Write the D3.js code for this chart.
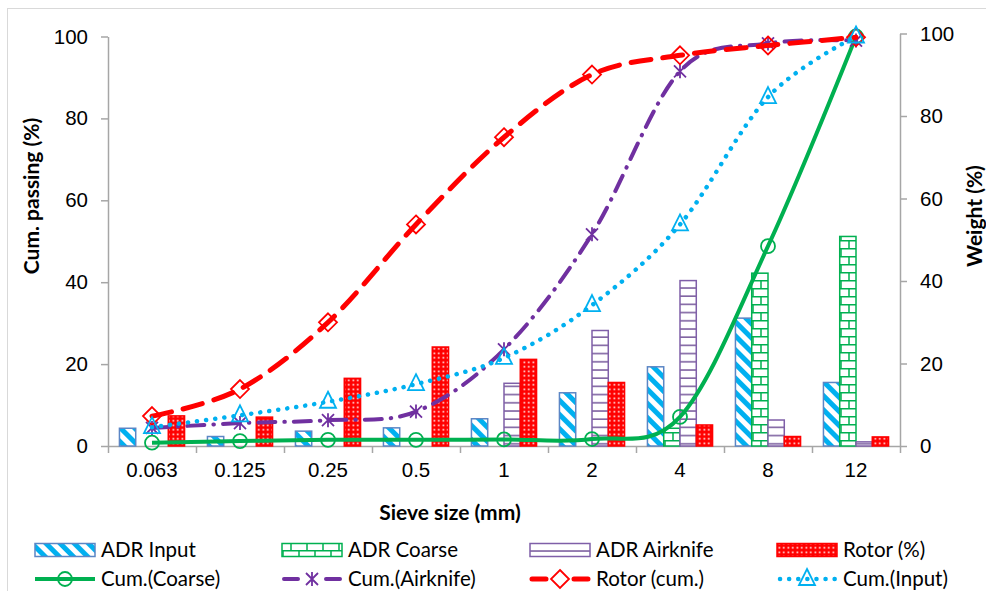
<!DOCTYPE html>
<html>
<head>
<meta charset="utf-8">
<script src="https://cdn.jsdelivr.net/npm/d3@7"></script>
<style>
  body { margin: 0; background: #fff; }
  svg { font-family: Lato, "Liberation Sans", sans-serif; }
  .tick text { font-size: 20.5px; fill: #000; }
  .title { font-size: 21px; font-weight: bold; }
  .leg { font-size: 20.5px; }
</style>
</head>
<body>
<svg width="986" height="591"></svg>
<script>
// sieve sizes and measured values
var sieve = ["0.063", "0.125", "0.25", "0.5", "1", "2", "4", "8", "12"];

// weight (%) bars, right axis
var adrInput    = [4.3, 2.3, 3.6, 4.4, 6.6, 12.9, 19.2, 31.0, 15.4];
var adrCoarse   = [0, 0, 0, 0, 0, 0, 4.3, 41.9, 50.8];
var adrAirknife = [0, 0, 0, 0, 15.2, 28.0, 40.1, 6.3, 1.0];
var rotorPct    = [7.3, 7.0, 16.4, 24.0, 21.0, 15.4, 5.1, 2.3, 2.2];

// cumulative passing (%), left axis
var cumCoarse   = [0.8, 1.2, 1.5, 1.5, 1.6, 1.7, 7.1, 48.8, 100];
var cumAirknife = [4.4, 5.6, 6.3, 8.4, 23.6, 51.7, 91.5, 98.3, 99.0];
var rotorCum    = [7.3, 13.9, 30.2, 54.1, 75.4, 90.7, 95.4, 97.8, 99.8];
var cumInput    = [4.6, 7.5, 10.8, 15.1, 21.5, 34.4, 54.1, 85.2, 100];

var yTicks = [0, 20, 40, 60, 80, 100];

var svg = d3.select("svg");
var left = 108, right = 900;

svg.append("rect").attr("x", 7.5).attr("y", 8.5).attr("width", 1000).attr("height", 600)
	.attr("fill", "none").attr("stroke", "#d9d9d9");

var x = d3.scaleBand().domain(sieve).range([left, right]).paddingInner(0.26).paddingOuter(0.13);
var xEdge = d3.scaleLinear().domain([0, sieve.length]).range([left, right]);
var yL = d3.scaleLinear().domain([0, 100]).range([446, 36.5]);
var yR = d3.scaleLinear().domain([0, 100]).range([446, 33.5]);

// patterns
var defs = svg.append("defs");
var p1 = defs.append("pattern").attr("id", "pInput").attr("patternUnits", "userSpaceOnUse")
	.attr("width", 10).attr("height", 10).attr("patternTransform", "rotate(-45)");
p1.append("rect").attr("width", 10).attr("height", 10).attr("fill", "#fff");
p1.append("rect").attr("width", 5).attr("height", 10).attr("fill", "#00b0f0");

var p2 = defs.append("pattern").attr("id", "pCoarse").attr("patternUnits", "userSpaceOnUse")
	.attr("width", 16).attr("height", 16);
p2.append("rect").attr("width", 16).attr("height", 16).attr("fill", "#fff");
p2.append("path").attr("d", "M0,0.75H16M0,8.75H16M1,0V8.75M9,8.75V16")
	.attr("stroke", "#00b050").attr("stroke-width", 1.5).attr("fill", "none");

var p3 = defs.append("pattern").attr("id", "pAir").attr("patternUnits", "userSpaceOnUse")
	.attr("width", 8).attr("height", 8.2);
p3.append("rect").attr("width", 8).attr("height", 8.2).attr("fill", "#fff");
p3.append("path").attr("d", "M0,1H8").attr("stroke", "#8064a2").attr("stroke-width", 1.6);

var p4 = defs.append("pattern").attr("id", "pRotor").attr("patternUnits", "userSpaceOnUse")
	.attr("width", 4.5).attr("height", 4.5);
p4.append("rect").attr("width", 4.5).attr("height", 4.5).attr("fill", "#ff0000");
p4.append("rect").attr("x", 1.5).attr("y", 1.5).attr("width", 1.6).attr("height", 1.6).attr("fill", "#fff");

var barSeries = [
	{name: "ADR Input", values: adrInput, fill: "url(#pInput)", stroke: "#5b86c5"},
	{name: "ADR Coarse", values: adrCoarse, fill: "url(#pCoarse)", stroke: "#00b050"},
	{name: "ADR Airknife", values: adrAirknife, fill: "url(#pAir)", stroke: "#7f5fa8"},
	{name: "Rotor (%)", values: rotorPct, fill: "url(#pRotor)", stroke: "#ff0000"}
];
var xs = d3.scaleBand().domain(barSeries.map(s => s.name)).range([0, x.bandwidth()]);

// axes
var gx = svg.append("g").attr("transform", "translate(0,446)")
	.call(d3.axisBottom(xEdge).tickValues(d3.range(sieve.length + 1)).tickFormat("").tickSize(7).tickSizeOuter(0));
var gxl = svg.append("g").attr("transform", "translate(0,446)")
	.call(d3.axisBottom(x).tickSize(0).tickPadding(16));
gxl.select(".domain").remove();

var gyl = svg.append("g").attr("transform", "translate(" + left + ",0)")
	.call(d3.axisLeft(yL).tickValues(yTicks).tickSize(7).tickSizeOuter(0).tickPadding(13));
var gyr = svg.append("g").attr("transform", "translate(" + right + ",0)")
	.call(d3.axisRight(yR).tickValues(yTicks).tickSize(7).tickSizeOuter(0).tickPadding(13));
[gx, gyl, gyr].forEach(g => {
	g.selectAll(".domain, line").attr("stroke", "#a6a6a6").attr("stroke-width", 1.5);
});

// bars
barSeries.forEach(s => {
	svg.append("g").selectAll("rect")
		.data(s.values.map((v, i) => ({c: sieve[i], v: v})).filter(d => d.v > 0))
		.enter().append("rect")
		.attr("x", d => x(d.c) + xs(s.name))
		.attr("y", d => yR(d.v))
		.attr("width", xs.bandwidth())
		.attr("height", d => yR(0) - yR(d.v))
		.attr("fill", s.fill)
		.attr("stroke", s.stroke)
		.attr("stroke-width", 1.5);
});

// markers
function marker(type){
	if (type == "circle") return d3.symbol().type(d3.symbolCircle).size(Math.PI * 49)();
	if (type == "star") return "M0,-7V7M-6,-6L6,6M-6,6L6,-6";
	if (type == "diamond") return "M0,-9L9,0L0,9L-9,0Z";
	if (type == "triangle") return "M0,-10L8,6H-8Z";
}

var lineSeries = [
	{name: "Cum.(Coarse)", values: cumCoarse, color: "#00b050", width: 4, dash: null, cap: "butt", marker: "circle"},
	{name: "Cum.(Airknife)", values: cumAirknife, color: "#7030a0", width: 4, dash: "17,9,0.5,9", cap: "round", marker: "star"},
	{name: "Rotor (cum.)", values: rotorCum, color: "#ff0000", width: 5, dash: "20,12", cap: "round", marker: "diamond"},
	{name: "Cum.(Input)", values: cumInput, color: "#00b0f0", width: 4.5, dash: "0.1,9", cap: "round", marker: "triangle"}
];

var line = d3.line()
	.x((d, i) => x(sieve[i]) + x.bandwidth() / 2)
	.y(d => yL(d))
	.curve(d3.curveCatmullRom.alpha(0));

lineSeries.forEach(s => {
	var g = svg.append("g");
	g.append("path").attr("d", line(s.values))
		.attr("fill", "none").attr("stroke", s.color).attr("stroke-width", s.width)
		.attr("stroke-dasharray", s.dash).attr("stroke-linecap", s.cap);
	g.selectAll(".mk").data(s.values).enter().append("path")
		.attr("class", "mk")
		.attr("d", marker(s.marker))
		.attr("transform", (d, i) => "translate(" + (x(sieve[i]) + x.bandwidth() / 2) + "," + yL(d) + ")")
		.attr("fill", "none").attr("stroke", s.color).attr("stroke-width", 1.8);
});

// axis titles
svg.append("text").attr("class", "title").attr("text-anchor", "middle")
	.attr("transform", "translate(39,196) rotate(-90)").text("Cum. passing (%)");
svg.append("text").attr("class", "title").attr("text-anchor", "middle")
	.attr("transform", "translate(982,216) rotate(-90)").text("Weight (%)");
svg.append("text").attr("class", "title").attr("text-anchor", "middle")
	.attr("x", 450).attr("y", 520).text("Sieve size (mm)");

// legend
var legX = [35, 282, 530, 777];
barSeries.forEach((s, i) => {
	var g = svg.append("g").attr("transform", "translate(" + legX[i] + ",550)");
	g.append("rect").attr("x", 0).attr("y", -6.5).attr("width", 60).attr("height", 13)
		.attr("fill", s.fill).attr("stroke", s.stroke).attr("stroke-width", 1.5);
	g.append("text").attr("class", "leg").attr("x", 66).attr("y", 7).text(s.name);
});
lineSeries.forEach((s, i) => {
	var g = svg.append("g").attr("transform", "translate(" + legX[i] + ",579)");
	if (s.marker == "circle") {
		g.append("path").attr("d", "M0,0H60");
	} else if (s.marker == "triangle") {
		g.append("path").attr("d", "M3,0H60");
	} else {
		g.append("path").attr("d", "M2,0H16M44,0H58");
	}
	g.select("path").attr("stroke", s.color).attr("stroke-width", s.width)
		.attr("stroke-dasharray", s.marker == "triangle" ? s.dash : null)
		.attr("stroke-linecap", s.cap).attr("fill", "none");
	g.append("path").attr("d", marker(s.marker)).attr("transform", "translate(30,0)")
		.attr("fill", s.marker == "diamond" ? "#fff" : "none")
		.attr("stroke", s.color).attr("stroke-width", 1.8);
	g.append("text").attr("class", "leg").attr("x", 66).attr("y", 7).text(s.name);
});
</script>
</body>
</html>
